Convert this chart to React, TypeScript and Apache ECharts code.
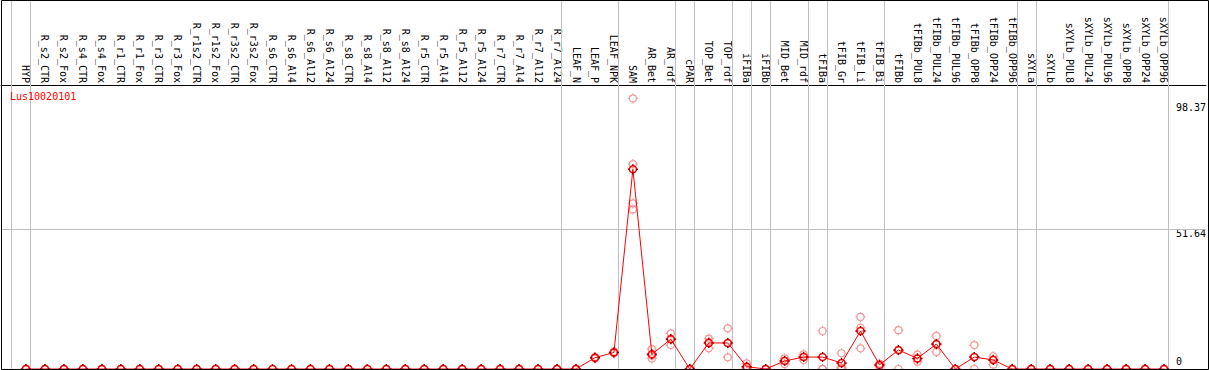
import React, { useEffect, useRef } from "react";
import * as echarts from "echarts";

const categories = [
  "HYP",
  "R_s2_CTR", "R_s2_Fox", "R_s4_CTR", "R_s4_Fox", "R_r1_CTR", "R_r1_Fox",
  "R_r3_CTR", "R_r3_Fox", "R_r1s2_CTR", "R_r1s2_Fox", "R_r3s2_CTR", "R_r3s2_Fox",
  "R_s6_CTR", "R_s6_Al4", "R_s6_Al12", "R_s6_Al24",
  "R_s8_CTR", "R_s8_Al4", "R_s8_Al12", "R_s8_Al24",
  "R_r5_CTR", "R_r5_Al4", "R_r5_Al12", "R_r5_Al24",
  "R_r7_CTR", "R_r7_Al4", "R_r7_Al12", "R_r7_Al24",
  "LEAF_N", "LEAF_P", "LEAF_NPK",
  "SAM", "AR_Bet", "AR_rdf",
  "cPAR",
  "TOP_Bet", "TOP_rdf",
  "iFIBa",
  "iFIBb",
  "MID_Bet", "MID_rdf",
  "tFIBa",
  "tFIB_Gr", "tFIB_Li", "tFIB_Bi",
  "tFIBb", "tFIBb_PUL8", "tFIBb_PUL24", "tFIBb_PUL96", "tFIBb_OPP8", "tFIBb_OPP24", "tFIBb_OPP96",
  "sXYLa",
  "sXYLb", "sXYLb_PUL8", "sXYLb_PUL24", "sXYLb_PUL96", "sXYLb_OPP8", "sXYLb_OPP24", "sXYLb_OPP96",
];

// mean expression per sample
const meanValues = [
  0,
  0, 0, 0, 0, 0, 0, 0, 0, 0, 0, 0, 0,
  0, 0, 0, 0, 0, 0, 0, 0, 0, 0, 0, 0, 0, 0, 0, 0,
  0, 4.15, 6.1,
  73.6, 5.4, 11.0,
  0,
  9.6, 9.6,
  0.85,
  0,
  2.95, 4.4,
  4.4,
  2.2, 14.0, 1.5,
  7.0, 3.9, 9.2, 0, 4.4, 3.3, 0,
  0,
  0, 0, 0, 0, 0, 0, 0,
];

// replicate values
const rep1 = [
  0,
  0, 0, 0, 0, 0, 0, 0, 0, 0, 0, 0, 0,
  0, 0, 0, 0, 0, 0, 0, 0, 0, 0, 0, 0, 0, 0, 0, 0,
  0, 4.4, 6.4,
  99.7, 7.3, 13.1,
  0,
  11.2, 15.0,
  2.1,
  0,
  3.9, 5.4,
  14.0,
  5.8, 19.2, 2.0,
  14.3, 5.3, 12.2, 0, 8.8, 4.7, 0,
  0,
  0, 0, 0, 0, 0, 0, 0,
];
const rep2 = [
  0,
  0, 0, 0, 0, 0, 0, 0, 0, 0, 0, 0, 0,
  0, 0, 0, 0, 0, 0, 0, 0, 0, 0, 0, 0, 0, 0, 0, 0,
  0, 3.9, 5.8,
  58.8, 3.9, 8.8,
  0,
  7.6, 4.3,
  0,
  0,
  1.8, 3.3,
  0,
  0.6, 7.6, 1.0,
  0, 2.7, 6.3, 0, 0, 1.6, 0,
  0,
  0, 0, 0, 0, 0, 0, 0,
];
const rep3 = [
  0,
  0, 0, 0, 0, 0, 0, 0, 0, 0, 0, 0, 0,
  0, 0, 0, 0, 0, 0, 0, 0, 0, 0, 0, 0, 0, 0, 0, 0,
  0, 4.15, 6.1,
  61.0, 5.0, 11.2,
  0,
  10.0, 9.5,
  0.4,
  0,
  3.1, 4.5,
  0,
  0.2, 15.2, 1.5,
  6.8, 3.8, 9.0, 0, 4.4, 3.6, 0,
  0,
  0, 0, 0, 0, 0, 0, 0,
];
const rep4 = [
  null,
  null, null, null, null, null, null, null, null, null, null, null, null,
  null, null, null, null, null, null, null, null, null, null, null, null, null, null, null, null,
  null, null, null,
  75.5, null, null,
  null,
  null, null,
  null,
  null,
  null, null,
  null,
  null, null, null,
  null, null, null, null, null, null, null,
  null,
  null, null, null, null, null, null, null,
];

// index of the last sample in each group (separators drawn after them)
const groupEnds = [-1, 0, 28, 31, 34, 35, 37, 38, 39, 41, 42, 45, 52, 53, 60];
const yTickLabels = [98.37, 51.64];
const yZeroLabel = [0];
const gridLineValues = [51.64];
const geneId = "Lus10020101";

const FONT = '"DejaVu Sans Mono", "Liberation Mono", monospace';
const RING_TICKS =
  "path://M8.5,5A3.5,3.5,0,1,1,1.5,5A3.5,3.5,0,1,1,8.5,5ZM5,0L5,2M5,8L5,10M0,5L2,5M8,5L10,5";
const TICKS_ONLY = "path://M5,0L5,2M5,8L5,10M0,5L2,5M8,5L10,5";

export default function App() {
  const ref = useRef<HTMLDivElement>(null);

  useEffect(() => {
    document.body.style.margin = "0";
    if (!ref.current) return;
    const chart = echarts.init(ref.current, null, { renderer: "svg" });

    const replicatePoints: [number, number][] = [];
    [rep1, rep2, rep3, rep4].forEach((arr) => {
      arr.forEach((v, i) => {
        if (v !== null && v !== undefined) replicatePoints.push([i, v as number]);
      });
    });
    const meanPoints = meanValues.map((v, i) => [i, v]);

    const sepOffset = 0.24;
    const xMin = -1.3158;
    const xMax = 62.21;
    const yMax = 135.96;

    const yAxisBase = {
      type: "value",
      min: 0,
      max: yMax,
      position: "right",
      axisLine: { show: false, onZero: false },
      axisTick: { show: false },
      splitLine: { show: false },
    };

    chart.setOption({
      animation: false,
      grid: { left: 1, right: 1, top: 0, bottom: 1, show: false },
      xAxis: {
        type: "value",
        min: xMin,
        max: xMax,
        position: "top",
        offset: -85,
        axisLine: { show: true, onZero: false, lineStyle: { color: "#000", width: 1 } },
        axisTick: { show: false },
        splitLine: { show: false },
        axisLabel: {
          customValues: categories.map((_, i) => i),
          formatter: (v: number) => categories[Math.round(v)] ?? "",
          rotate: 90,
          margin: 2,
          fontSize: 10,
          fontFamily: FONT,
          color: "#000",
          hideOverlap: false,
        },
      },
      yAxis: [
        {
          ...yAxisBase,
          axisLabel: {
            customValues: yTickLabels,
            formatter: (v: number) => String(v),
            margin: -30,
            verticalAlign: "top",
            fontSize: 10,
            fontFamily: FONT,
            color: "#000",
          },
        },
        {
          ...yAxisBase,
          axisLabel: {
            customValues: yZeroLabel,
            formatter: (v: number) => String(v),
            margin: -30,
            verticalAlign: "bottom",
            padding: [0, 0, 3, 0],
            fontSize: 10,
            fontFamily: FONT,
            color: "#000",
          },
        },
      ],
      series: [
        {
          type: "scatter",
          yAxisIndex: 0,
          data: replicatePoints,
          symbol: RING_TICKS,
          symbolSize: 10,
          z: 2,
          itemStyle: { color: "rgba(0,0,0,0)", borderColor: "#f08080", borderWidth: 1.2 },
          silent: true,
          markLine: {
            silent: true,
            symbol: ["none", "none"],
            label: { show: false },
            lineStyle: { color: "#c0c0c0", width: 1, type: "solid" },
            z: 1,
            data: [
              ...groupEnds.map((e) => ({ xAxis: e + sepOffset })),
              ...gridLineValues.map((v) => ({ yAxis: v })),
            ],
          },
        },
        {
          type: "line",
          yAxisIndex: 0,
          data: meanPoints,
          symbol: RING_TICKS,
          symbolSize: 10,
          showAllSymbol: true,
          z: 3,
          lineStyle: { color: "#ff0000", width: 1 },
          itemStyle: { color: "rgba(0,0,0,0)", borderColor: "#ff0000", borderWidth: 1.5 },
          silent: true,
        },
        {
          type: "scatter",
          yAxisIndex: 0,
          data: meanPoints,
          symbol: TICKS_ONLY,
          symbolSize: 10,
          z: 4,
          itemStyle: { color: "rgba(0,0,0,0)", borderColor: "#400000", borderWidth: 1 },
          silent: true,
        },
      ],
      graphic: [
        {
          type: "rect",
          z: 100,
          silent: true,
          shape: { x: 1.5, y: 0.5, width: 1207, height: 369 },
          style: { fill: "none", stroke: "#000", lineWidth: 1 },
        },
        {
          type: "text",
          left: 10,
          top: 91,
          z: 100,
          style: { text: geneId, fill: "#ff0000", fontSize: 10, fontFamily: FONT },
        },
      ],
    });

    return () => chart.dispose();
  }, []);

  return <div ref={ref} style={{ width: 1209, height: 370 }} />;
}
